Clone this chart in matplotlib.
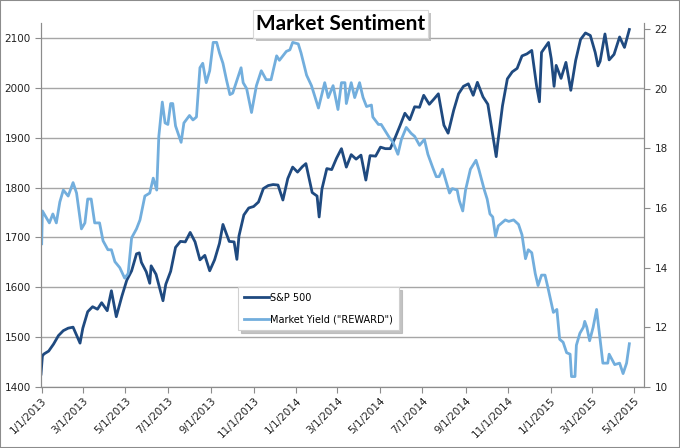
import matplotlib
matplotlib.use('Agg')
import matplotlib.pyplot as plt
import matplotlib.patches as mpatches
import pandas as pd

# S&P 500 closes
spx_dates = ['2012-12-31', '2013-01-02', '2013-01-04', '2013-01-11', '2013-01-18', '2013-01-25',
             '2013-02-01', '2013-02-08', '2013-02-15', '2013-02-25', '2013-03-01', '2013-03-08',
             '2013-03-15', '2013-03-22', '2013-03-28', '2013-04-05', '2013-04-11', '2013-04-18',
             '2013-04-26', '2013-05-03', '2013-05-10', '2013-05-17', '2013-05-21', '2013-05-24',
             '2013-05-31', '2013-06-05', '2013-06-07', '2013-06-14', '2013-06-24', '2013-06-28',
             '2013-07-05', '2013-07-12', '2013-07-19', '2013-07-26', '2013-08-02', '2013-08-09',
             '2013-08-16', '2013-08-23', '2013-08-30', '2013-09-06', '2013-09-13', '2013-09-18',
             '2013-09-27', '2013-10-04', '2013-10-08', '2013-10-11', '2013-10-18', '2013-10-25',
             '2013-11-01', '2013-11-08', '2013-11-15', '2013-11-22', '2013-11-29', '2013-12-06',
             '2013-12-13', '2013-12-20', '2013-12-27', '2014-01-03', '2014-01-10', '2014-01-15',
             '2014-01-24', '2014-01-31', '2014-02-03', '2014-02-07', '2014-02-14', '2014-02-21',
             '2014-02-28', '2014-03-07', '2014-03-14', '2014-03-21', '2014-03-28', '2014-04-04',
             '2014-04-11', '2014-04-17', '2014-04-25', '2014-05-02', '2014-05-09', '2014-05-16',
             '2014-05-23', '2014-05-30', '2014-06-06', '2014-06-13', '2014-06-20', '2014-06-27',
             '2014-07-03', '2014-07-11', '2014-07-18', '2014-07-24', '2014-08-01', '2014-08-07',
             '2014-08-15', '2014-08-22', '2014-08-29', '2014-09-05', '2014-09-12', '2014-09-18',
             '2014-09-26', '2014-10-03', '2014-10-10', '2014-10-15', '2014-10-17', '2014-10-24',
             '2014-10-31', '2014-11-07', '2014-11-14', '2014-11-21', '2014-11-28', '2014-12-05',
             '2014-12-12', '2014-12-16', '2014-12-19', '2014-12-29', '2015-01-02', '2015-01-06',
             '2015-01-09', '2015-01-16', '2015-01-23', '2015-01-30', '2015-02-06', '2015-02-13',
             '2015-02-20', '2015-02-27', '2015-03-06', '2015-03-10', '2015-03-13', '2015-03-20',
             '2015-03-26', '2015-04-02', '2015-04-10', '2015-04-17', '2015-04-22', '2015-04-24']
spx_values = [1426, 1462, 1466, 1472, 1486, 1503,
              1513, 1518, 1520, 1488, 1518, 1551,
              1561, 1556, 1569, 1553, 1593, 1541,
              1582, 1614, 1633, 1667, 1669, 1650,
              1631, 1608, 1643, 1626, 1573, 1606,
              1632, 1680, 1692, 1691, 1710, 1691,
              1655, 1664, 1633, 1655, 1688, 1726,
              1692, 1691, 1656, 1703, 1745, 1759,
              1762, 1771, 1798, 1804, 1806, 1805,
              1775, 1818, 1841, 1831, 1842, 1848,
              1790, 1783, 1741, 1797, 1838, 1836,
              1859, 1878, 1841, 1866, 1857, 1865,
              1815, 1864, 1863, 1881, 1878, 1878,
              1900, 1924, 1949, 1936, 1962, 1961,
              1985, 1967, 1978, 1988, 1925, 1909,
              1955, 1988, 2003, 2008, 1985, 2011,
              1982, 1967, 1906, 1862, 1887, 1964,
              2018, 2032, 2039, 2064, 2068, 2075,
              2003, 1972, 2071, 2091, 2058, 2003,
              2045, 2019, 2051, 1995, 2055, 2097,
              2110, 2105, 2071, 2044, 2053, 2108,
              2056, 2067, 2102, 2081, 2107, 2117]

# Market yield ("REWARD"), right axis
yld_dates = ['2013-01-01', '2013-01-02', '2013-01-07', '2013-01-12', '2013-01-17', '2013-01-22',
             '2013-01-27', '2013-02-01', '2013-02-08', '2013-02-15', '2013-02-20', '2013-02-27',
             '2013-03-04', '2013-03-08', '2013-03-13', '2013-03-18', '2013-03-25', '2013-03-30',
             '2013-04-06', '2013-04-11', '2013-04-16', '2013-04-23', '2013-04-30', '2013-05-05',
             '2013-05-10', '2013-05-17', '2013-05-22', '2013-05-29', '2013-06-05', '2013-06-10',
             '2013-06-15', '2013-06-18', '2013-06-23', '2013-06-27', '2013-07-01', '2013-07-05',
             '2013-07-08', '2013-07-12', '2013-07-20', '2013-07-24', '2013-08-01', '2013-08-06',
             '2013-08-11', '2013-08-16', '2013-08-20', '2013-08-25', '2013-08-30', '2013-09-04',
             '2013-09-09', '2013-09-13', '2013-09-18', '2013-09-23', '2013-09-28', '2013-10-02',
             '2013-10-07', '2013-10-14', '2013-10-17', '2013-10-22', '2013-10-29', '2013-11-05',
             '2013-11-12', '2013-11-19', '2013-11-26', '2013-12-04', '2013-12-08', '2013-12-18',
             '2013-12-23', '2013-12-27', '2014-01-04', '2014-01-08', '2014-01-16', '2014-01-23',
             '2014-02-02', '2014-02-11', '2014-02-16', '2014-02-23', '2014-03-02', '2014-03-07',
             '2014-03-12', '2014-03-14', '2014-03-21', '2014-03-26', '2014-04-02', '2014-04-07',
             '2014-04-12', '2014-04-19', '2014-04-21', '2014-04-29', '2014-05-03', '2014-05-11',
             '2014-05-15', '2014-05-20', '2014-05-27', '2014-06-01', '2014-06-08', '2014-06-15',
             '2014-06-20', '2014-06-27', '2014-07-04', '2014-07-09', '2014-07-16', '2014-07-21',
             '2014-07-25', '2014-07-30', '2014-08-04', '2014-08-09', '2014-08-13', '2014-08-20',
             '2014-08-23', '2014-08-28', '2014-09-01', '2014-09-08', '2014-09-16', '2014-09-20',
             '2014-09-28', '2014-10-02', '2014-10-06', '2014-10-10', '2014-10-14', '2014-10-18',
             '2014-10-23', '2014-10-28', '2014-11-02', '2014-11-09', '2014-11-16', '2014-11-21',
             '2014-11-26', '2014-11-30', '2014-12-05', '2014-12-10', '2014-12-14', '2014-12-19',
             '2014-12-24', '2014-12-28', '2015-01-05', '2015-01-10', '2015-01-14', '2015-01-19',
             '2015-01-24', '2015-01-29', '2015-01-31', '2015-02-05', '2015-02-07', '2015-02-12',
             '2015-02-17', '2015-02-19', '2015-02-22', '2015-02-26', '2015-03-03', '2015-03-08',
             '2015-03-12', '2015-03-17', '2015-03-24', '2015-03-26', '2015-04-03', '2015-04-10',
             '2015-04-15', '2015-04-20', '2015-04-24']
yld_values = [14.8, 15.9, 15.7, 15.5, 15.8, 15.5,
              16.2, 16.6, 16.4, 16.85, 16.5, 15.3,
              15.5, 16.3, 16.3, 15.5, 15.5, 14.9,
              14.6, 14.6, 14.2, 14.0, 13.65, 13.8,
              15.0, 15.3, 15.6, 16.4, 16.5, 17.0,
              16.6, 18.4, 19.55, 18.85, 18.8, 19.5,
              19.5, 18.75, 18.2, 18.85, 19.1, 18.95,
              19.05, 20.7, 20.85, 20.2, 20.6, 21.55,
              21.55, 21.2, 20.85, 20.3, 19.8, 19.85,
              20.2, 20.7, 20.2, 20.0, 19.2, 20.1,
              20.6, 20.3, 20.3, 21.1, 20.95, 21.25,
              21.3, 21.55, 21.5, 21.2, 20.45, 20.1,
              19.35, 20.2, 19.7, 20.1, 19.3, 20.2,
              20.2, 19.5, 20.2, 19.7, 20.2, 19.7,
              19.4, 19.45, 19.05, 18.8, 18.8, 18.5,
              18.35, 18.2, 17.8, 18.3, 18.7, 18.5,
              18.4, 18.1, 18.3, 17.8, 17.35, 17.05,
              17.05, 17.3, 16.9, 16.5, 16.65, 16.6,
              16.25, 15.9, 16.6, 17.3, 17.6, 17.3,
              16.6, 16.3, 15.8, 15.7, 15.05, 15.4,
              15.5, 15.6, 15.55, 15.6, 15.45, 15.1,
              14.3, 14.6, 14.5, 13.8, 13.4, 13.75,
              13.75, 13.35, 12.5, 12.6, 11.6, 11.5,
              11.15, 11.1, 10.35, 10.35, 11.4, 11.8,
              12.0, 12.2, 12.0, 11.55, 12.0, 12.6,
              11.8, 10.8, 10.8, 11.1, 10.75, 10.8,
              10.45, 10.8, 11.45]

left_ticks = [1400, 1500, 1600, 1700, 1800, 1900, 2000, 2100]
right_ticks = [10, 12, 14, 16, 18, 20, 22]

dark = '#1f4a80'
light = '#72aedd'
gray = '#8c8c8c'

plt.rcParams['font.family'] = 'DejaVu Sans'

fig = plt.figure(figsize=(6.8, 4.48), dpi=100)
ax = fig.add_axes([41 / 680, 1 - 387 / 448, (644 - 41) / 680, (387 - 23) / 448])
ax2 = ax.twinx()

ax.plot(pd.to_datetime(spx_dates), spx_values, color=dark, lw=2.0, label='S&P 500', zorder=3)
ax2.plot(pd.to_datetime(yld_dates), yld_values, color=light, lw=2.0, label='Market Yield ("REWARD")')

ax.set_ylim(1400, 2130)
ax2.set_ylim(10, 22.2)
ax.set_yticks(left_ticks)
ax2.set_yticks(right_ticks)
ax.set_xlim(pd.Timestamp('2012-12-31'), pd.Timestamp('2015-05-15'))

xt = pd.date_range('2013-01-01', '2015-05-01', freq='2MS')
ax.set_xticks(xt)
ax.set_xticklabels(['{}/1/{}'.format(d.month, d.year) for d in xt], rotation=45,
                   ha='right', rotation_mode='anchor')

ax.grid(axis='y', color='#a6a6a6', lw=1.0)
ax.set_axisbelow(True)
for a in (ax, ax2):
    a.spines['top'].set_visible(False)
    for s in ('left', 'right', 'bottom'):
        a.spines[s].set_color(gray)
    a.tick_params(colors=gray, labelcolor='#222222', labelsize=7.5, length=4, width=0.8)
ax.tick_params(axis='x', pad=2)

# legend with shadow
h1, l1 = ax.get_legend_handles_labels()
h2, l2 = ax2.get_legend_handles_labels()
leg = ax2.legend(h1 + h2, l1 + l2, loc='upper left', bbox_to_anchor=(238 / 680, 1 - 287 / 448),
                 bbox_transform=fig.transFigure, fontsize=7, frameon=True, fancybox=False,
                 shadow={'color': '#b5b5b5', 'alpha': 0.8}, framealpha=1, edgecolor='#d0d0d0',
                 handlelength=2.6, handletextpad=0.1, labelspacing=1.2, borderpad=0.6,
                 borderaxespad=0)
leg.get_frame().set_linewidth(0.8)

# title box with shadow
bx, by, bw, bh = 253 / 680, 1 - 38 / 448, 175 / 680, 28 / 448
fig.add_artist(mpatches.Rectangle((bx + 3 / 680, by - 3 / 448), bw, bh, transform=fig.transFigure,
                                  fc='#b5b5b5', ec='none', alpha=0.8, zorder=5))
fig.add_artist(mpatches.Rectangle((bx, by), bw, bh, transform=fig.transFigure,
                                  fc='white', ec='#d8d8d8', lw=0.8, zorder=6))
fig.text(bx + bw / 2, by + bh / 2, 'Market Sentiment', family='Lato', weight='bold',
         fontsize=15, ha='center', va='center', zorder=7)

# outer border
fig.add_artist(mpatches.Rectangle((0, 0), 1, 1, transform=fig.transFigure, fill=False,
                                  ec=gray, lw=1.5))

plt.savefig('out.png', dpi=100)
